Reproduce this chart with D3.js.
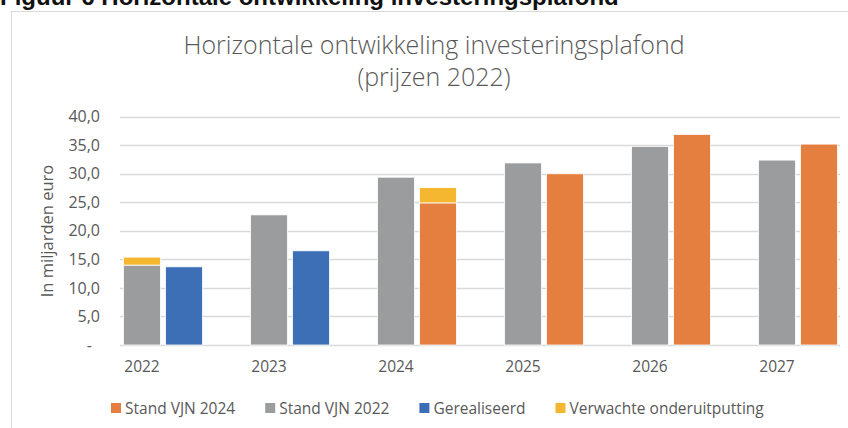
<!DOCTYPE html>
<html>
<head>
<meta charset="utf-8" />
<title>Horizontale ontwikkeling investeringsplafond</title>
<style>
html, body {
    margin: 0px;
    padding: 0px;
    background: #fff;
}
svg {
    display: block;
    font-family: "Open Sans", sans-serif;
}
</style>
</head>
<body>
<svg id="chart" width="848" height="428"></svg>

<script src="https://d3js.org/d3.v7.min.js"></script>
<script>
var years = ["2022", "2023", "2024", "2025", "2026", "2027"]
var standVJN2022 = [14.0, 22.8, 29.4, 31.9, 34.8, 32.4]
var gerealiseerd = [13.7, 16.5, null, null, null, null]
var standVJN2024 = [null, null, 24.9, 30.0, 36.9, 35.2]
// onderuitputting sits on top of the gray bar in 2022 and the orange bar in 2024
var onderuitputting = [1.4, 0, 2.7, 0, 0, 0]
var yTicks = [0, 5, 10, 15, 20, 25, 30, 35, 40]

var colors = {
    vjn2024: "#e57f3f",
    vjn2022: "#9b9c9e",
    real: "#3d6fb7",
    onder: "#f5b72f"
}
var textColor = "#595959"

var svg = d3.select("#chart")
var width = 848, height = 428

// clipped figure caption above the chart box
svg.append("text")
    .attr("x", 0)
    .attr("y", 5)
    .attr("font-family", "Liberation Sans, Arial, sans-serif")
    .attr("font-weight", "bold")
    .attr("font-size", 24)
    .attr("fill", "#111")
    .text("Figuur 6 Horizontale ontwikkeling investeringsplafond")

// chart frame (right and bottom run off the picture)
svg.append("rect")
    .attr("x", 11.5).attr("y", 11.5)
    .attr("width", width).attr("height", height)
    .attr("fill", "none")
    .attr("stroke", "#d9d9d9")

var title = svg.append("text")
    .attr("text-anchor", "middle")
    .attr("fill", textColor)
    .attr("font-size", 25)
    .attr("font-weight", 300)
title.append("tspan").attr("x", 434).attr("y", 54).text("Horizontale ontwikkeling investeringsplafond")
title.append("tspan").attr("x", 434).attr("y", 86).text("(prijzen 2022)")

var plot = {left: 120, right: 840, top: 116.7, bottom: 345}

var y = d3.scaleLinear().domain([0, 40]).range([plot.bottom, plot.top])
var x = d3.scaleBand().domain(years).range([78.5, 840.5])
var barW = 37, gap = 5

// gridlines
svg.append("g")
    .selectAll("line")
    .data(yTicks)
    .join("line")
    .attr("x1", plot.left).attr("x2", plot.right)
    .attr("y1", function(d){ return Math.round(y(d)) + 0.5 })
    .attr("y2", function(d){ return Math.round(y(d)) + 0.5 })
    .attr("stroke", "#d9d9d9")
    .attr("stroke-width", 1.3)

// y axis labels
var fmt = function(d){ return d === 0 ? "-" : d3.format(".1f")(d).replace(".", ",") }
var yAxis = d3.axisLeft(y).tickValues(yTicks).tickFormat(fmt).tickSize(0).tickPadding(0)
var yg = svg.append("g")
    .attr("transform", "translate(100,0)")
    .call(yAxis)
yg.select(".domain").remove()
yg.selectAll("text")
    .attr("font-family", "Open Sans, sans-serif")
    .attr("font-size", 16)
    .attr("fill", textColor)
    .attr("dx", function(d){ return d === 0 ? -8 : 0 })

// x axis labels
var xAxis = d3.axisBottom(x).tickSize(0).tickPadding(0)
var xg = svg.append("g")
    .attr("transform", "translate(0,361)")
    .call(xAxis)
xg.select(".domain").remove()
xg.selectAll("text")
    .attr("font-family", "Open Sans, sans-serif")
    .attr("font-size", 15.5)
    .attr("fill", textColor)

svg.append("text")
    .attr("transform", "translate(53,231) rotate(-90)")
    .attr("text-anchor", "middle")
    .attr("font-size", 16.5)
    .attr("fill", textColor)
    .text("In miljarden euro")

// bars: gray bar centred on the category, the second bar to its right
var grayX = function(i){ return x(years[i]) + x.bandwidth() / 2 - barW / 2 }
var secondX = function(i){ return grayX(i) + barW + gap }

var rows = years.map(function(yr, i){
    return {i: i, gray: standVJN2022[i], real: gerealiseerd[i], orange: standVJN2024[i], onder: onderuitputting[i]}
})

var bars = svg.append("g")

function addBar(xpos, v0, v1, color) {
    bars.append("rect")
        .attr("x", xpos)
        .attr("y", y(v1))
        .attr("width", barW)
        .attr("height", y(v0) - y(v1))
        .attr("fill", color)
        .attr("stroke", "#fff")
        .attr("stroke-width", 0.8)
}

rows.forEach(function(r){
    addBar(grayX(r.i), 0, r.gray, colors.vjn2022)
    if (r.real != null) addBar(secondX(r.i), 0, r.real, colors.real)
    if (r.orange != null) addBar(secondX(r.i), 0, r.orange, colors.vjn2024)
    if (r.onder > 0) {
        if (r.orange != null) addBar(secondX(r.i), r.orange, r.orange + r.onder, colors.onder)
        else addBar(grayX(r.i), r.gray, r.gray + r.onder, colors.onder)
    }
})

// legend
var legendItems = [
    {label: "Stand VJN 2024", color: colors.vjn2024},
    {label: "Stand VJN 2022", color: colors.vjn2022},
    {label: "Gerealiseerd", color: colors.real},
    {label: "Verwachte onderuitputting", color: colors.onder}
]
var legend = svg.append("g")
var lx = 111
legendItems.forEach(function(item){
    legend.append("rect")
        .attr("x", lx).attr("y", 403)
        .attr("width", 10).attr("height", 10)
        .attr("fill", item.color)
    var t = legend.append("text")
        .attr("x", lx + 14).attr("y", 413.5)
        .attr("font-size", 15.5)
        .attr("fill", textColor)
        .text(item.label)
    lx += 14 + t.node().getComputedTextLength() + 30
})
</script>
</body>
</html>
